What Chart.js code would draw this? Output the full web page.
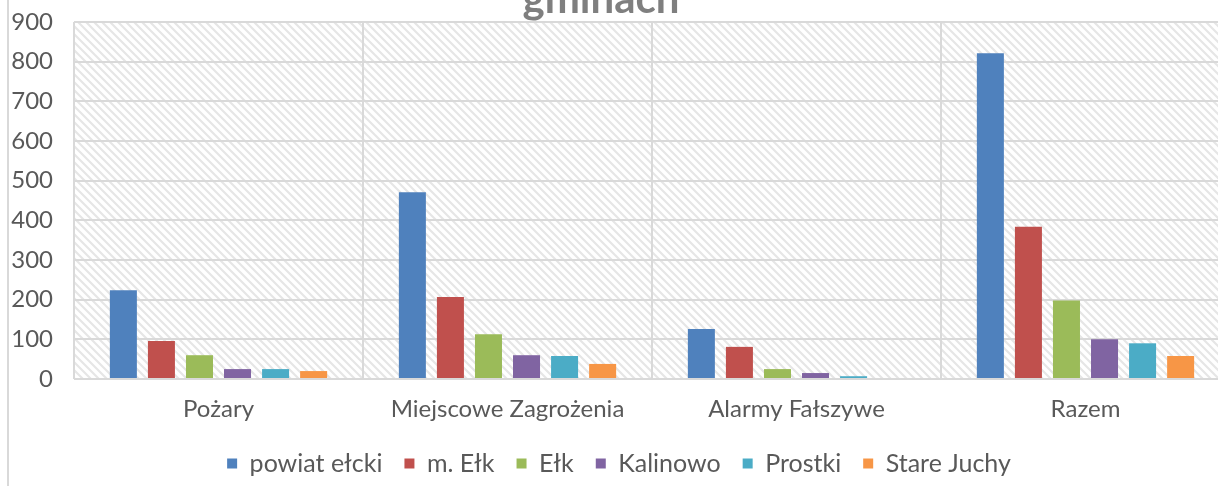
<!DOCTYPE html>
<html>
<head>
<meta charset="utf-8">
<script src="https://cdn.jsdelivr.net/npm/chart.js@4"></script>
<style>
  html, body { margin: 0; padding: 0; background: #fff; overflow: hidden; }
  #wrap { position: absolute; left: 0; top: 0; width: 1240px; height: 486px; }
  #edge { position: absolute; left: 7px; top: 0; width: 2px; height: 486px; background: #d9d9d9; }
</style>
</head>
<body>
<div id="wrap"><canvas id="chart"></canvas></div>
<div id="edge"></div>
<script>
/* categories and series */
var categories = ["Pożary", "Miejscowe Zagrożenia", "Alarmy Fałszywe", "Razem"];
var seriesNames = ["powiat ełcki", "m. Ełk", "Ełk", "Kalinowo", "Prostki", "Stare Juchy"];
var powiatElcki = [224, 471, 126, 821];
var mElk = [96, 207, 81, 384];
var elk = [60, 113, 25, 198];
var kalinowo = [25, 60, 15, 100];
var prostki = [25, 58, 7, 90];
var stareJuchy = [20, 38, 0, 58];
var seriesColors = ["#4f81bd", "#c0504d", "#9bbb59", "#8064a2", "#4bacc6", "#f79646"];
var yTicks = [0, 100, 200, 300, 400, 500, 600, 700, 800, 900];

var TXT = "#595959";
var GRID = "#d9d9d9";

/* diagonal hatch used for the plot background */
function makeHatch() {
  var c = document.createElement("canvas");
  c.width = 8; c.height = 8;
  var g = c.getContext("2d");
  g.fillStyle = "#fff";
  g.fillRect(0, 0, 8, 8);
  g.strokeStyle = "#e6e6e6";
  g.lineWidth = 2.2;
  g.beginPath();
  g.moveTo(-2, -2); g.lineTo(10, 10);
  g.moveTo(-2, 6); g.lineTo(2, 10);
  g.moveTo(6, -2); g.lineTo(10, 2);
  g.stroke();
  return g.createPattern(c, "repeat");
}

var hatchBg = {
  id: "hatchBg",
  beforeDraw: function (chart) {
    var a = chart.chartArea, ctx = chart.ctx;
    ctx.save();
    ctx.fillStyle = makeHatch();
    ctx.fillRect(a.left, a.top, a.right - a.left, a.bottom - a.top);
    ctx.restore();
  }
};

/* title: only its last line shows, the rest is above the frame */
var cutTitle = {
  id: "cutTitle",
  afterDraw: function (chart) {
    var ctx = chart.ctx;
    ctx.save();
    ctx.fillStyle = "#7f7f7f";
    ctx.font = "bold 42px Lato";
    ctx.textAlign = "center";
    ctx.textBaseline = "alphabetic";
    ctx.fillText("gminach", 601, 13);
    ctx.restore();
  }
};

var values = [powiatElcki, mElk, elk, kalinowo, prostki, stareJuchy];
var datasets = seriesNames.map(function (name, i) {
  return {
    label: name,
    data: values[i],
    backgroundColor: seriesColors[i],
    borderWidth: 0,
    categoryPercentage: 0.79,
    barPercentage: 0.71
  };
});

new Chart(document.getElementById("chart"), {
  type: "bar",
  data: { labels: categories, datasets: datasets },
  plugins: [hatchBg, cutTitle],
  options: {
    responsive: true,
    maintainAspectRatio: false,
    animation: false,
    layout: { padding: { left: 8, right: 10, top: 22, bottom: 0 } },
    plugins: {
      legend: {
        position: "bottom",
        labels: {
          color: TXT,
          font: { family: "Lato", size: 25 },
          boxWidth: 10,
          boxHeight: 10,
          padding: 22
        }
      },
      tooltip: { enabled: false }
    },
    scales: {
      x: {
        grid: { color: GRID, lineWidth: 2, offset: true, drawTicks: false },
        border: { display: false },
        ticks: { color: TXT, font: { family: "Lato", size: 24 }, padding: 16 },
        afterFit: function (s) { s.height = 50; s.paddingLeft = 0; s.paddingRight = 0; }
      },
      y: {
        min: 0,
        max: 900,
        afterBuildTicks: function (s) { s.ticks = yTicks.map(function (v) { return { value: v }; }); },
        grid: { color: GRID, lineWidth: 2, drawTicks: false },
        border: { display: false },
        ticks: { color: TXT, font: { family: "Lato", size: 24 }, padding: 21 },
        afterFit: function (s) { s.width = 66; s.paddingTop = 0; s.paddingBottom = 0; }
      }
    }
  }
});
</script>
</body>
</html>
